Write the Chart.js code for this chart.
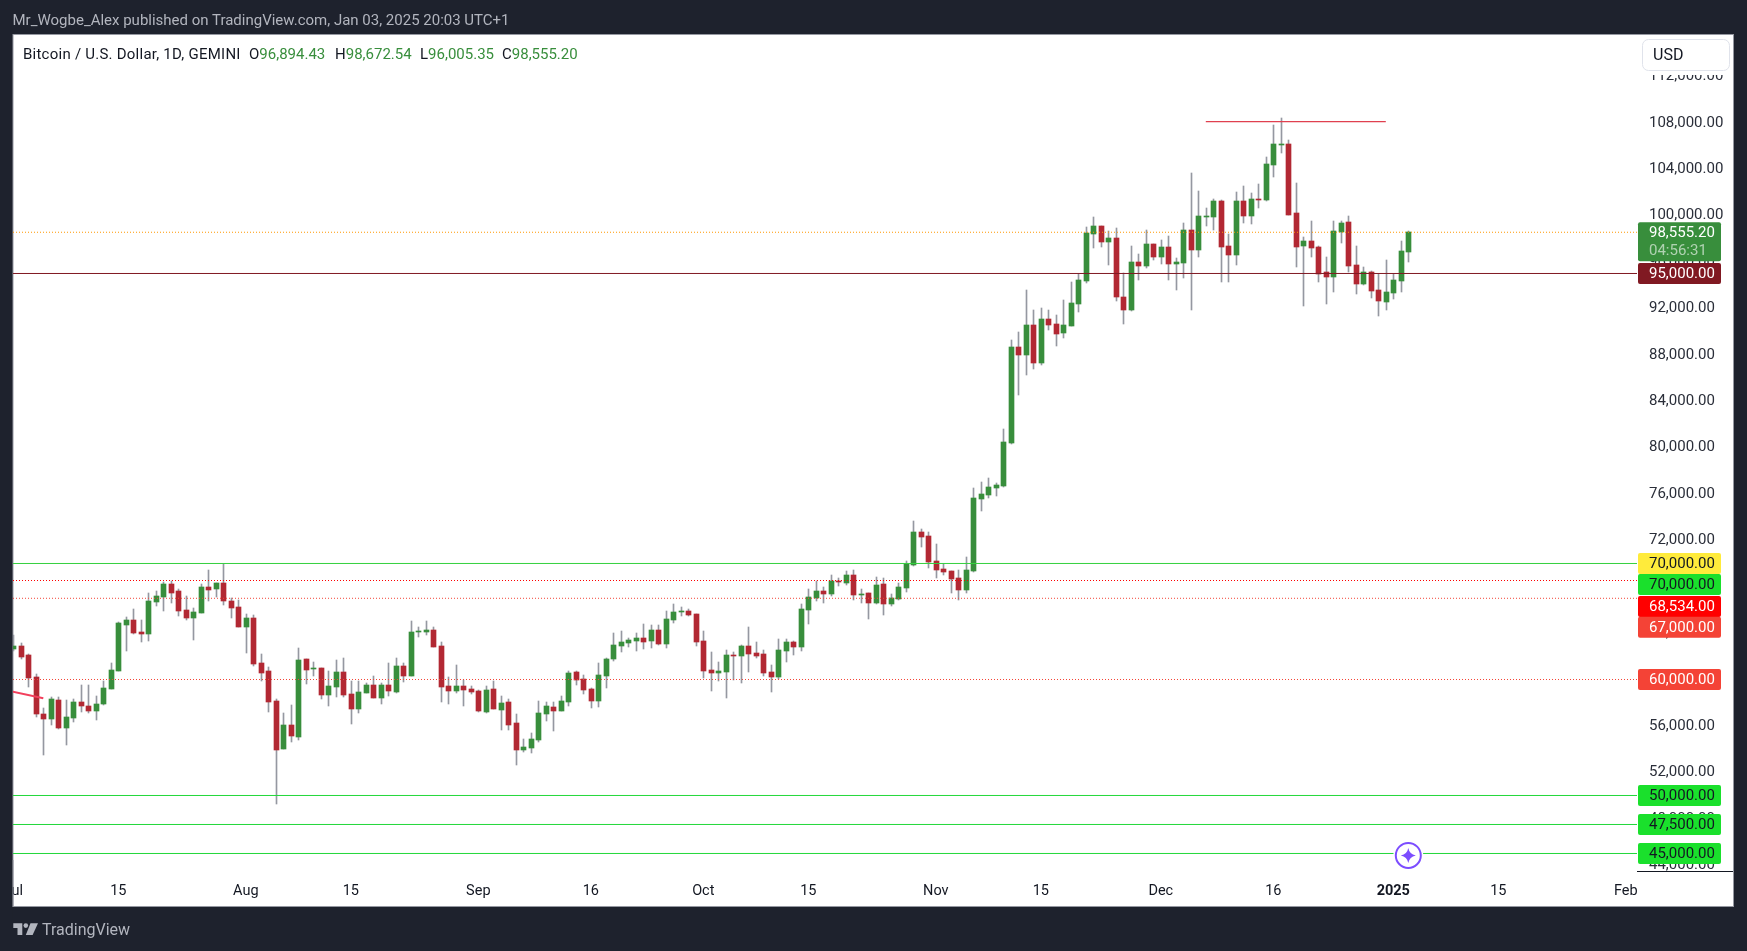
<!DOCTYPE html>
<html><head><meta charset="utf-8">
<script src="https://cdn.jsdelivr.net/npm/chart.js@4"></script>
<style>
html,body{margin:0;padding:0;background:#1e222d;width:1747px;height:951px;overflow:hidden}
canvas{position:absolute;left:0;top:0}
.t{position:absolute;white-space:nowrap;font-family:Roboto,sans-serif;line-height:1}
svg{position:absolute;left:0;top:0}
</style></head><body>
<canvas id="c" width="1747" height="951"></canvas>
<svg width="60" height="951" style="pointer-events:none"><path fill="#b2b5be" d="M13.3 923.3H22.3V935H17.5V928H13.3Z"/><circle cx="25.8" cy="925.6" r="2.3" fill="#b2b5be"/><path fill="#b2b5be" d="M30.5 923.3H38L32.6 935H25.8Z"/></svg>
<div class="t" style="left:12.5px;top:13px;font-size:15px;color:#b2b5be">Mr_Wogbe_Alex published on TradingView.com, Jan 03, 2025 20:03 UTC+1</div>
<div class="t" style="left:23px;top:47px;font-size:15px;letter-spacing:.24px;color:#131722">Bitcoin / U.S. Dollar, 1D, GEMINI</div>
<div class="t" style="left:249px;top:47px;font-size:15px;color:#131722">O<span style="color:#388e3c">96,894.43</span></div>
<div class="t" style="left:335px;top:47px;font-size:15px;color:#131722">H<span style="color:#388e3c">98,672.54</span></div>
<div class="t" style="left:420px;top:47px;font-size:15px;color:#131722">L<span style="color:#388e3c">96,005.35</span></div>
<div class="t" style="left:502px;top:47px;font-size:15px;color:#131722">C<span style="color:#388e3c">98,555.20</span></div>
<div class="t" style="left:42px;top:922px;font-size:16px;color:#b2b5be">TradingView</div>
<script>
const opens=[62611,62870,62094,60198,57008,56577,58215,55801,56663,58042,57697,57266,57870,59163,60715,64680,65111,64077,63904,66663,67094,68215,67611,65973,65284,65715,67956,67784,68301,66749,66232,64508,65284,61404,60715,58129,53991,56060,55025,61749,60887,60973,58646,59335,60629,58732,57439,58818,59508,58387,59508,58905,61146,60284,64077,64077,64249,62870,59422,58991,59422,59163,58991,57180,59163,57353,58042,56232,53904,54077,54767,57008,57611,57266,58042,60629,60025,59163,58129,60284,61749,62870,63129,63301,63560,63301,64249,63042,65111,65801,65887,65629,63301,60801,60542,60629,62094,62008,62870,62266,62180,60629,60198,62439,63215,62784,65973,67008,67611,67353,68473,68301,68991,67267,67439,66577,68215,66491,66922,67871,69854,72698,72354,70198,69509,69336,68733,67698,69336,75543,75888,76492,76664,80371,88647,87957,90544,87268,91061,90630,89854,90457,92354,94336,98388,99078,97698,98043,92957,91836,95974,95630,97526,96405,97267,95802,95888,98733,97009,99854,99854,101233,97354,96578,101233,99940,101405,101319,104336,106061,106147,100198,97354,97785,97267,95112,94681,98561,99423,95716,94078,95112,93560,92526,93302,94336,96894.43];
const highs=[63818,63186,62180,60456,57525,58473,58473,58215,58301,59508,59508,58560,59853,61404,64939,65370,66060,65111,67439,67611,68387,68473,67784,67180,66146,68215,69422,68301,69997,67008,66836,65629,65542,62180,61060,58301,57094,57784,62698,61749,61491,60973,60715,61663,61835,59853,59853,59680,60284,59680,61404,61835,61404,65025,64508,65025,64508,63215,60198,61232,59939,59422,59077,59422,59853,58560,58301,57008,54853,55370,58129,58042,58042,58560,60715,60715,60370,59249,61404,61835,63991,64163,63560,63991,64767,64680,64680,65887,66491,66232,66060,65629,64163,62353,61491,62525,62353,62956,64508,63215,62525,61232,63473,63473,63301,66491,67784,68473,67956,68991,68732,69336,69422,67784,67439,68818,68732,67353,68301,70198,73647,72957,72698,71664,69940,69336,69423,70543,76492,77009,77356,76923,81578,89250,89940,93561,91837,92009,91837,91406,92699,94250,94940,98992,99854,99078,98647,98905,95026,97354,96664,98733,97526,97871,98216,96319,99336,103647,102095,100629,101405,101319,98388,102009,102526,101923,102699,105026,107785,108388,106492,102785,98130,99509,97354,96405,99509,99509,99940,97354,95543,95198,94940,96147,94940,97785,98672.54];
const lows=[62439,61749,59335,56749,53473,56060,55715,54335,56318,57180,57094,56491,57784,59163,60715,62439,63904,63215,63301,66318,65887,66577,65456,65111,63387,65715,66749,67094,66404,65284,64508,62266,61146,59853,57180,49249,53991,54594,54767,59594,60284,58301,57697,58473,58473,56146,57094,58818,58387,57870,58560,58818,59767,60284,63646,63818,62784,58042,57870,58818,57697,58732,57180,57094,57439,55628,55628,52611,53732,53646,54594,56404,55542,57266,57697,59508,58732,57525,57611,59249,61577,62353,62784,62439,62611,62698,62956,62698,64853,65456,65456,62870,60111,58991,59853,58387,59939,59680,60629,61835,60284,58905,60025,61491,62094,62439,64767,66749,66577,67180,68042,68129,66836,66577,65197,66491,65542,66318,66836,67526,69768,71405,69595,68733,68991,67440,66836,67440,69250,74509,75630,75802,76578,80285,84509,86233,86750,87095,90113,88733,89423,90457,91664,94164,97181,97267,95716,92612,90629,91750,94423,95457,96147,95802,94423,93560,94595,91836,96405,99078,98733,94250,94250,95716,99336,99250,100629,101233,103302,105371,100026,95543,92181,96405,94250,92353,93388,97612,95112,93216,93992,92871,91319,91836,92785,93388,96005.35];
const closes=[62870,61922,60111,57008,56577,58301,55801,56749,58042,57697,57266,57870,59249,60801,64853,65111,63991,63904,66749,67180,68215,67439,65887,65284,65801,67956,67697,68301,66749,66146,64508,65284,61318,60542,58042,53904,56060,55111,61663,60801,60973,58646,59422,60629,58646,57439,58905,59508,58387,59508,58991,61146,60284,64077,64163,64249,62784,59335,58991,59422,59077,58905,57266,59077,57439,57956,56060,53904,54163,54853,57094,57697,57266,58129,60542,59939,59077,58129,60370,61749,62956,63215,63387,63560,63215,64249,63042,65197,65801,65887,65542,63215,60715,60542,60715,62094,62008,62870,62180,62008,60542,60198,62525,63215,62784,66060,67094,67611,67353,68473,68416,68991,67267,67353,66577,68129,66491,67008,67956,69940,72698,72267,70112,69423,69250,68647,67698,69423,75630,75974,76578,76750,80457,88647,87957,90544,87268,91061,90544,89768,90544,92440,94423,98474,99078,97698,98043,92957,91836,95974,95630,97526,96405,97267,95802,95974,98733,97009,99940,99940,101233,97267,96578,101233,99940,101405,101319,104423,106147,106147,100026,97267,97785,97181,94940,94681,98647,99336,95630,94078,95112,93474,92612,93388,94423,96923,98555.20];
const yTicks=[44000,48000,52000,56000,60000,64000,68000,72000,76000,80000,84000,88000,92000,96000,100000,104000,108000,112000];
const xTickDays=[0,14,31,45,62,77,92,106,123,137,153,168,184,198,215];
const xTickLabels=['Jul','15','Aug','15','Sep','16','Oct','15','Nov','15','Dec','16','2025','15','Feb'];
const levelValues=[70000,68534,67000,60000,50000,47500,45000,95000,98555.20];
const levelColors=['#35d13f','#ff0000','#f44336','#f44336','#22d83a','#22d83a','#22d83a','#801922','#ff9800'];
const levelDotted=[false,true,true,true,false,false,false,false,true];
const resistanceDays=[159,183];
const resistanceValues=[108100,108100];
const trendDays=[-1,4];
const trendValues=[59080,58380];
const badgeValues=[70000,70000,68534,67000,60000,50000,47500,45000,95000];
const badgeFills=['#ffeb3b','#1ae02c','#ff0000','#f44336','#f44336','#1ae02c','#1ae02c','#1ae02c','#801922'];
const badgeInk=['#131722','#131722','#ffffff','#ffffff','#ffffff','#131722','#131722','#131722','#ffffff'];
const badgeShift=[0,21,26,29,0,0,0,0,0];
const lastPrice=98555.20, countdown='04:56:31';
const iconDay=186, iconValue=44830;

const X_MIN=(13-13.3)/7.5, X_MAX=(1637-13.3)/7.5;
const days=opens.map((_,i)=>i);
const UP='#388e3c',DOWN='#b22833',WICK='#9598a1',FONT='Roboto, sans-serif';
const fmt=v=>v.toLocaleString('en-US',{minimumFractionDigits:2,maximumFractionDigits:2});

const snap={id:'snap',afterDatasetsUpdate(ch){
  ch.data.datasets.forEach((d,di)=>{
    if(d.type!=='bar')return;
    ch.getDatasetMeta(di).data.forEach(el=>{
      el.x=Math.round(el.x)+0.5;
      let a=Math.round(el.y),b=Math.round(el.base);
      if(a===b)b=a+1;
      el.y=a;el.base=b;
    });
  });
}};
const frame={id:'frame',
 beforeDraw(ch){const c=ch.ctx;c.save();
  c.fillStyle='#1e222d';c.fillRect(0,0,1747,951);
  c.fillStyle='#ffffff';c.fillRect(13,34,1721,873);
  c.strokeStyle='#9598a1';c.lineWidth=1;c.strokeRect(13,34.5,1720.5,872);
  c.restore();},
 afterDraw(ch){const c=ch.ctx,y=ch.scales.y,x=ch.scales.x;c.save();
  c.fillStyle='#1e222d';c.fillRect(0,860,12.5,60);
  c.strokeStyle='#9598a1';c.beginPath();c.moveTo(13,860);c.lineTo(13,907);c.stroke();
  c.strokeStyle='#131722';c.lineWidth=1;c.beginPath();c.moveTo(1637,871.5);c.lineTo(1733,871.5);c.stroke();
  // USD box
  c.fillStyle='#fff';c.fillRect(1640,38,92,37);
  c.strokeStyle='#e0e3eb';c.beginPath();c.roundRect(1642.5,39.5,87,31,6);c.fill();c.stroke();
  c.fillStyle='#131722';c.font='16px '+FONT;c.textAlign='left';c.textBaseline='middle';c.fillText('USD',1653,56);
  // price badges
  c.font='15px '+FONT;
  const rr=(cy,h,f)=>{c.fillStyle=f;c.beginPath();c.roundRect(1638,cy-h/2,83,h,2);c.fill();};
  const ly=y.getPixelForValue(lastPrice);
  rr(ly+9.5,39,UP);
  c.fillStyle='#fff';c.fillText(fmt(lastPrice),1649,ly+0.5);
  c.fillStyle='rgba(255,255,255,.6)';c.fillText(countdown,1649,ly+19);
  badgeValues.forEach((v,i)=>{const cy=y.getPixelForValue(v)+badgeShift[i];
    rr(cy,21,badgeFills[i]);c.fillStyle=badgeInk[i];c.fillText(fmt(v),1649,cy+0.8);});
  // assistant icon
  const ix=x.getPixelForValue(iconDay),iy=y.getPixelForValue(iconValue);
  c.fillStyle='#fff';c.beginPath();c.arc(ix,iy,15,0,7);c.fill();
  c.strokeStyle='#7c4dff';c.lineWidth=2;c.beginPath();c.arc(ix,iy,12.5,0,7);c.stroke();
  c.fillStyle='#7c4dff';c.beginPath();c.moveTo(ix,iy-7.5);c.quadraticCurveTo(ix+1.2,iy-1.2,ix+7.5,iy);c.quadraticCurveTo(ix+1.2,iy+1.2,ix,iy+7.5);c.quadraticCurveTo(ix-1.2,iy+1.2,ix-7.5,iy);c.quadraticCurveTo(ix-1.2,iy-1.2,ix,iy-7.5);c.fill();
  c.restore();}
};
const lineDs=(xs,ys,color,dash,w,ord)=>({type:'line',data:xs.map((d,i)=>({x:d,y:ys[i]})),borderColor:color,borderWidth:w,borderDash:dash,pointRadius:0,order:ord,tension:0,parsing:true});
const datasets=[
 {type:'bar',data:days.map(i=>({x:i,y:[opens[i],closes[i]]})),backgroundColor:days.map(i=>closes[i]>=opens[i]?UP:DOWN),barThickness:5,grouped:false,order:3},
 {type:'bar',data:days.map(i=>({x:i,y:[lows[i],highs[i]]})),backgroundColor:WICK,barThickness:1,grouped:false,order:4},
 ...levelValues.map((v,i)=>lineDs([X_MIN,X_MAX],[v,v],levelColors[i],levelDotted[i]?[1,2]:[],1,1)),
 lineDs(resistanceDays,resistanceValues,'#e0404f',[],1.2,1),
 lineDs(trendDays,trendValues,'#f23f5c',[],2,1)
];
new Chart(document.getElementById('c'),{
 data:{datasets},
 plugins:[snap,frame],
 options:{responsive:false,animation:false,devicePixelRatio:1,events:[],
  layout:{padding:{left:13,top:34,right:13,bottom:44}},
  plugins:{legend:{display:false},tooltip:{enabled:false},title:{display:false}},
  scales:{
   x:{type:'linear',min:X_MIN,max:X_MAX,offset:false,grid:{display:false,drawTicks:false},border:{display:false},
    afterFit:s=>{s.height=35;s.paddingLeft=0;s.paddingRight=0;},
    afterBuildTicks:s=>{s.ticks=xTickDays.map(v=>({value:v}));},
    ticks:{autoSkip:false,maxRotation:0,padding:11,color:'#131722',
     font:c=>({family:FONT,size:14.5,weight:(c.tick&&xTickLabels[xTickDays.indexOf(c.tick.value)]==='2025')?'700':'400'}),
     callback:v=>xTickLabels[xTickDays.indexOf(v)]}},
   y:{type:'linear',position:'right',min:43405,max:115646,grid:{display:false,drawTicks:false},border:{display:false},
    afterFit:s=>{s.width=97;s.paddingTop=0;s.paddingBottom=0;},
    afterBuildTicks:s=>{s.ticks=yTicks.map(v=>({value:v}));},
    ticks:{padding:12,crossAlign:'near',labelOffset:0.2,color:'#2a2e39',font:{family:FONT,size:15},callback:v=>fmt(v)}}
  }}
});
</script>
</body></html>
